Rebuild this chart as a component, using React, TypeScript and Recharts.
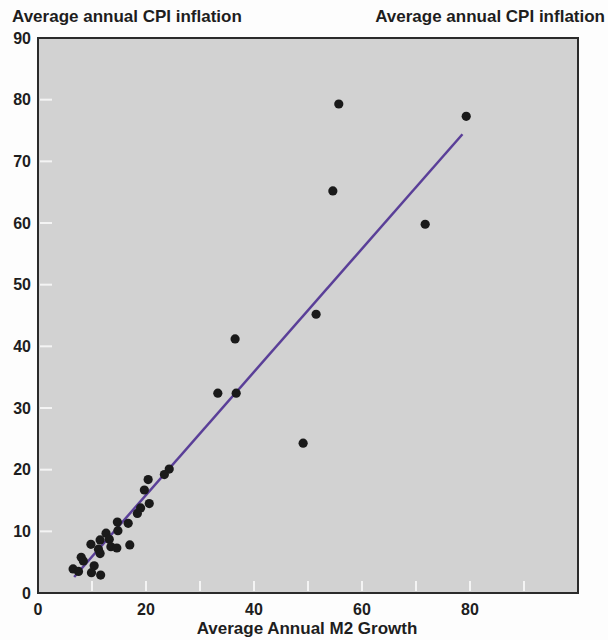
import { ScatterChart, Scatter, XAxis, YAxis, ReferenceArea } from "recharts";

// Average annual M2 growth (x) and CPI inflation (y)
const m2Growth = [
  55.7, 79.3, 54.6, 71.7, 51.5, 36.5, 33.3, 36.7, 49.1,
  24.3, 23.4, 20.4, 19.7, 20.6, 19.0, 18.4, 16.7, 14.7, 14.8, 12.6, 13.2, 11.5,
  9.8, 13.5, 14.6, 17.0, 11.2, 11.5, 8.0, 8.4, 10.4, 6.5, 7.5, 9.9, 11.6,
];
const cpiInflation = [
  79.3, 77.3, 65.2, 59.8, 45.2, 41.2, 32.4, 32.4, 24.3,
  20.1, 19.2, 18.4, 16.7, 14.5, 13.8, 12.9, 11.3, 11.5, 10.1, 9.7, 8.7, 8.6,
  7.9, 7.5, 7.3, 7.8, 7.1, 6.4, 5.8, 5.2, 4.4, 3.9, 3.5, 3.3, 2.9,
];

// fitted regression line end points
const fitX = [6.7, 78.6];
const fitY = [2.6, 74.4];

const xTicks = [0, 10, 20, 30, 40, 50, 60, 70, 80, 90, 100];
const xLabelTicks = [0, 20, 40, 60, 80];
const yTicks = [0, 10, 20, 30, 40, 50, 60, 70, 80, 90];

const yTitle = "Average annual CPI inflation";
const xTitle = "Average Annual M2 Growth";

const points = m2Growth.map((x, i) => ({ x, y: cpiInflation[i] }));
const fitLine = fitX.map((x, i) => ({ x, y: fitY[i] }));

const W = 608;
const H = 640;
const PLOT_L = 38;
const PLOT_R = 578;
const PLOT_T = 38;
const PLOT_B = 593;

const FONT = "'Liberation Sans', Arial, sans-serif";
const TXT = "#1e1e1e";

const LeftTick = (props: any) => {
  const { y, payload } = props;
  const v = payload.value;
  return (
    <g>
      {v > 0 && v < 90 && (
        <line x1={PLOT_L + 2} x2={PLOT_L + 14} y1={y} y2={y} stroke="#f4f4f4" strokeWidth={2} />
      )}
      <text x={31} y={y} textAnchor="end" dominantBaseline="central" fontSize={16} fontWeight="bold" fill={TXT} fontFamily={FONT}>
        {v}
      </text>
    </g>
  );
};

const RightTick = (props: any) => {
  const { y, payload } = props;
  const v = payload.value;
  return (
    <g>
      {v > 0 && v < 90 && (
        <line x1={PLOT_R - 14} x2={PLOT_R - 2} y1={y} y2={y} stroke="#f4f4f4" strokeWidth={2} />
      )}
      <text x={586} y={y} textAnchor="start" dominantBaseline="central" fontSize={16} fontWeight="bold" fill={TXT} fontFamily={FONT}>
        {v}
      </text>
    </g>
  );
};

const BottomTick = (props: any) => {
  const { x, payload } = props;
  const v = payload.value;
  return (
    <g>
      {v > 0 && v < 100 && (
        <line x1={x} x2={x} y1={PLOT_B - 2} y2={PLOT_B - 12} stroke="#f4f4f4" strokeWidth={2} />
      )}
      {xLabelTicks.includes(v) && (
        <text x={x} y={615} textAnchor="middle" fontSize={16} fontWeight="bold" fill={TXT} fontFamily={FONT}>
          {v}
        </text>
      )}
    </g>
  );
};

const Dot = (props: any) => <circle cx={props.cx} cy={props.cy} r={4.6} fill="#1a1a1a" />;
const NoDot = () => <g />;

const titleStyle: any = {
  position: "absolute", fontFamily: FONT, fontWeight: "bold", fontSize: 17,
  color: TXT, whiteSpace: "nowrap", lineHeight: "18px",
};

export default function App() {
  return (
    <div style={{ position: "absolute", left: 0, top: 0, width: W, height: H, background: "#fdfdfd" }}>
      <div style={{ ...titleStyle, left: 12, top: 8 }}>{yTitle}</div>
      <div style={{ ...titleStyle, right: 3, top: 8 }}>{yTitle}</div>
      <div style={{ ...titleStyle, left: 307 - 150, width: 300, top: 620, textAlign: "center" }}>{xTitle}</div>
      <ScatterChart
        width={W}
        height={H}
        margin={{ top: PLOT_T, right: 0, bottom: 0, left: 0 }}
        style={{ position: "absolute", left: 0, top: 0 }}
      >
        <XAxis
          type="number"
          dataKey="x"
          domain={[0, 100]}
          ticks={xTicks}
          interval={0}
          height={H - PLOT_B}
          axisLine={false}
          tickLine={false}
          tick={<BottomTick />}
        />
        <YAxis
          yAxisId="left"
          type="number"
          dataKey="y"
          domain={[0, 90]}
          ticks={yTicks}
          interval={0}
          width={PLOT_L}
          axisLine={false}
          tickLine={false}
          tick={<LeftTick />}
        />
        <YAxis
          yAxisId="right"
          orientation="right"
          type="number"
          domain={[0, 90]}
          ticks={yTicks}
          interval={0}
          width={W - PLOT_R}
          axisLine={false}
          tickLine={false}
          tick={<RightTick />}
        />
        <ReferenceArea
          yAxisId="left"
          x1={0}
          x2={100}
          y1={0}
          y2={90}
          fill="#d2d2d2"
          fillOpacity={1}
          stroke="#2b2b2b"
          strokeWidth={2}
        />
        <Scatter
          yAxisId="left"
          data={fitLine}
          line={{ stroke: "#5a3f98", strokeWidth: 2.5 }}
          shape={<NoDot />}
          isAnimationActive={false}
        />
        <Scatter yAxisId="left" data={points} shape={<Dot />} isAnimationActive={false} />
      </ScatterChart>
    </div>
  );
}
